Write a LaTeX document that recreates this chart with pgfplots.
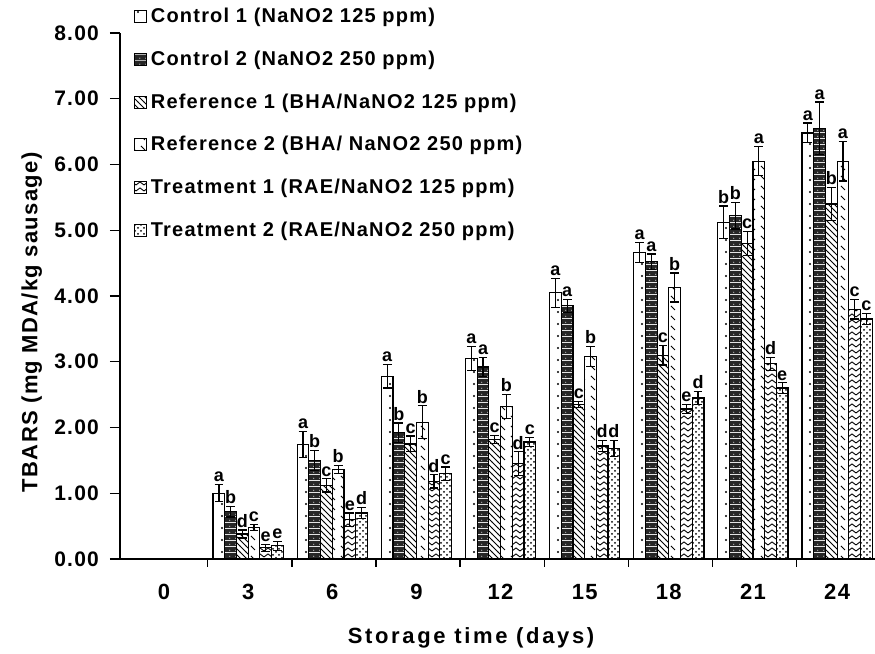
\documentclass[border=0pt]{standalone}
\usepackage{fontspec}
\setmainfont{Liberation Sans}[LetterSpace=6]
\usepackage{pgfplots}
\usepackage{pgfplotstable}
\pgfplotsset{compat=1.18}
\usetikzlibrary{patterns}

\pgfdeclarepatternformonly{sparsedots}{\pgfpoint{-1pt}{-1pt}}{\pgfpoint{7pt}{7pt}}{\pgfpoint{6pt}{6pt}}{%
  \pgfpathcircle{\pgfpoint{3pt}{3pt}}{0.6pt}\pgfusepath{fill}}
\pgfdeclarepatternformonly{sparseticks}{\pgfpoint{-1pt}{-1pt}}{\pgfpoint{6pt}{6pt}}{\pgfpoint{5pt}{5pt}}{%
  \pgfsetlinewidth{0.5pt}\pgfpathmoveto{\pgfpoint{0.5pt}{4pt}}\pgfpathlineto{\pgfpoint{2.5pt}{2pt}}\pgfusepath{stroke}}
\pgfdeclarepatternformonly{chevron}{\pgfpoint{-1pt}{-1pt}}{\pgfpoint{5pt}{4pt}}{\pgfpoint{4pt}{3pt}}{%
  \pgfsetlinewidth{0.45pt}\pgfpathmoveto{\pgfpoint{0pt}{0.5pt}}\pgfpathlineto{\pgfpoint{2pt}{2pt}}\pgfpathlineto{\pgfpoint{4pt}{0.5pt}}\pgfusepath{stroke}}
\pgfdeclarepatterninherentlycolored{darkstipple}{\pgfpointorigin}{\pgfpoint{3pt}{3pt}}{\pgfpoint{3pt}{3pt}}{%
  \pgfsetfillcolor{black!85}\pgfpathrectangle{\pgfpointorigin}{\pgfpoint{3pt}{3pt}}\pgfusepath{fill}%
  \pgfsetfillcolor{black!35}\pgfpathcircle{\pgfpoint{1pt}{1pt}}{0.4pt}\pgfusepath{fill}}

\pgfplotstableread{
x y e lab
1 1.00 0.13 a
2 1.74 0.20 a
3 2.78 0.18 a
4 3.05 0.18 a
5 4.05 0.22 a
6 4.66 0.15 a
7 5.12 0.25 b
8 6.48 0.15 a
}\cone
\pgfplotstableread{
x y e lab
1 0.72 0.08 b
2 1.50 0.15 b
3 1.92 0.15 b
4 2.92 0.15 a
5 3.85 0.10 a
6 4.52 0.12 a
7 5.22 0.20 b
8 6.55 0.40 a
}\ctwo
\pgfplotstableread{
x y e lab
1 0.38 0.06 d
2 1.12 0.10 c
3 1.75 0.12 c
4 1.82 0.06 c
5 2.35 0.05 c
6 3.10 0.15 c
7 4.80 0.18 c
8 5.40 0.25 b
}\rone
\pgfplotstableread{
x y e lab
1 0.48 0.05 c
2 1.36 0.06 b
3 2.08 0.25 b
4 2.32 0.18 b
5 3.08 0.15 b
6 4.13 0.22 b
7 6.05 0.22 a
8 6.05 0.30 a
}\rtwo
\pgfplotstableread{
x y e lab
1 0.17 0.05 e
2 0.60 0.10 e
3 1.18 0.10 d
4 1.45 0.18 d
5 1.72 0.08 d
6 2.28 0.07 e
7 2.97 0.10 d
8 3.80 0.15 c
}\tone
\pgfplotstableread{
x y e lab
1 0.20 0.07 e
2 0.70 0.08 d
3 1.30 0.10 c
4 1.78 0.07 c
5 1.68 0.12 d
6 2.45 0.10 d
7 2.60 0.08 e
8 3.65 0.08 c
}\ttwo

\begin{document}
\begin{tikzpicture}
\begin{axis}[
  name=ax,
  scale only axis, width=377.5pt, height=263pt,
  xmin=-0.523, xmax=8.45, ymin=0, ymax=8,
  axis x line*=bottom, axis y line*=left,
  axis line style={line width=0.8pt},
  clip=false,
  ybar=0pt, bar width=0.139,
  tick align=outside,
  major tick length=5pt, minor tick length=4pt,
  ytick={0,...,8},
  yticklabel={\pgfmathprintnumber[fixed,fixed zerofill,precision=2]{\tick}},
  /pgf/number format/assume math mode=true,
  yticklabel style={font=\bfseries\fontsize{10.5}{12}\selectfont, xshift=-2pt},
  ytick style={line width=0.7pt, black},
  xtick={0,...,8},
  xticklabels={0,3,6,9,12,15,18,21,24},
  major x tick style={draw=none},
  minor xtick={0.52,1.52,...,7.52},
  minor x tick style={line width=0.7pt, black},
  xticklabel style={font=\bfseries\fontsize{11}{13}\selectfont, yshift=-4pt},
  xlabel={Storage time (days)},
  xlabel style={at={(axis description cs:0.465,-0.15)}, anchor=center, font=\bfseries\fontsize{11}{13}\selectfont\addfontfeatures{LetterSpace=12}},
  ylabel={TBARS (mg MDA/kg sausage)},
  ylabel style={at={(axis description cs:-0.117,0.45)}, anchor=center, font=\bfseries\fontsize{11}{13}\selectfont},
  every axis plot/.append style={draw=black, line width=0.6pt},
  error bars/error bar style={line width=0.6pt, black},
  error bars/error mark options={rotate=90, mark size=2.2pt, line width=0.6pt, black},
  point meta=explicit symbolic,
  nodes near coords={\pgfplotspointmeta},
  visualization depends on={\thisrow{e} \as \errval},
  every node near coord/.append style={font=\bfseries\fontsize{9}{10}\selectfont, inner sep=1pt, yshift=\errval*32.875pt, black},
  legend cell align=left,
  legend style={at={(rel axis cs:0.01,1.063)}, anchor=north west, draw=none, fill=none,
    font=\bfseries\fontsize{10}{12}\selectfont, row sep=8.6pt,
    /tikz/every even column/.append style={column sep=0pt}},
  legend image code/.code={\draw[#1, line width=0.5pt] (0pt,-2.8pt) rectangle (6pt,3.2pt);},
]
\addplot[pattern=sparsedots, error bars/.cd, y dir=both, y explicit] table[x=x, y=y, y error=e, meta=lab] {\cone};
\addlegendentry{Control 1 (NaNO2 125 ppm)}
\addplot[pattern=darkstipple, error bars/.cd, y dir=both, y explicit] table[x=x, y=y, y error=e, meta=lab] {\ctwo};
\addlegendentry{Control 2 (NaNO2 250 ppm)}
\addplot[pattern=north west lines, error bars/.cd, y dir=both, y explicit] table[x=x, y=y, y error=e, meta=lab] {\rone};
\addlegendentry{Reference 1 (BHA/NaNO2 125 ppm)}
\addplot[pattern=sparseticks, error bars/.cd, y dir=both, y explicit] table[x=x, y=y, y error=e, meta=lab] {\rtwo};
\addlegendentry{Reference 2 (BHA/ NaNO2 250 ppm)}
\addplot[pattern=chevron, error bars/.cd, y dir=both, y explicit] table[x=x, y=y, y error=e, meta=lab] {\tone};
\addlegendentry{Treatment 1 (RAE/NaNO2 125 ppm)}
\addplot[pattern=crosshatch dots, error bars/.cd, y dir=both, y explicit] table[x=x, y=y, y error=e, meta=lab] {\ttwo};
\addlegendentry{Treatment 2 (RAE/NaNO2 250 ppm)}
\end{axis}
\pgfresetboundingbox
\path[use as bounding box] ([shift={(-60pt,-47.5pt)}]ax.south west) rectangle ++(437.5pt,327pt);
\end{tikzpicture}
\end{document}
